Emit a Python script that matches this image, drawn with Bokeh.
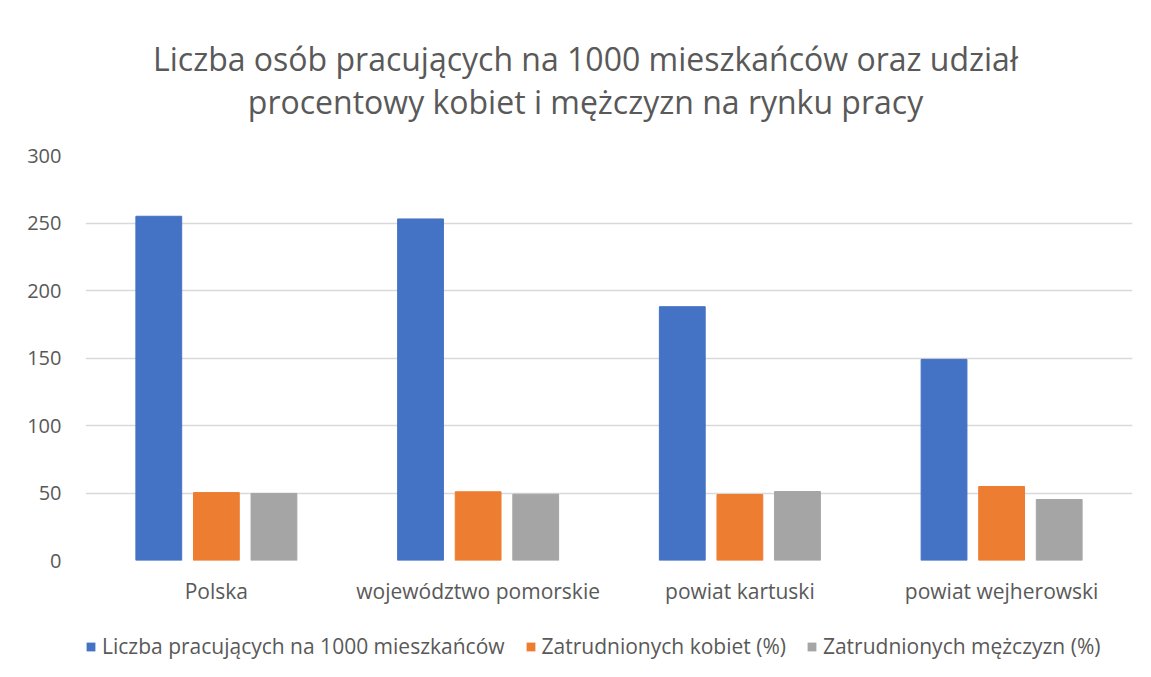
from bokeh.plotting import figure
from bokeh.layouts import column
from bokeh.models import ColumnDataSource, FactorRange, Legend, LegendItem, Label, SingleIntervalTicker, Range1d
from bokeh.transform import dodge
from bokeh.embed import file_html
from bokeh.resources import INLINE

categories = ["Polska", "województwo pomorskie", "powiat kartuski", "powiat wejherowski"]
pracujacy = [255, 253, 188, 149]
kobiety = [50.3, 50.9, 48.9, 54.8]
mezczyzni = [49.7, 49.1, 51.1, 45.2]
series_names = ["Liczba pracujących na 1000 mieszkańców", "Zatrudnionych kobiet (%)", "Zatrudnionych mężczyzn (%)"]
title_lines = ["Liczba osób pracujących na 1000 mieszkańców oraz udział",
               "procentowy kobiet i mężczyzn na rynku pracy"]
colors = ["#4472C4", "#ED7D31", "#A5A5A5"]

FONT = "Open Sans"
TXT = "#595959"
W = 1135
FL, FR = 85, 1132   # frame left / right in page pixels (column aligns the frames)


def blank(h):
    f = figure(width=W, height=h, x_range=Range1d(FL, FR), y_range=Range1d(0, h),
               x_axis_location=None, y_axis_location=None,
               output_backend="svg", toolbar_location=None,
               min_border_left=FL, min_border_right=W - FR, min_border_top=0, min_border_bottom=0)
    f.grid.visible = False
    f.outline_line_color = None
    f.title.visible = False
    return f


# header with the two-line title
HEAD_H = 140
head = blank(HEAD_H)
for line, yc in zip(title_lines, [82, 39]):
    head.add_layout(Label(x=585, y=yc, text=line, text_align="center", text_baseline="middle",
                          text_font=FONT, text_font_size="32px", text_color=TXT))

# main chart
src = ColumnDataSource(dict(cat=categories, a=pracujacy, b=kobiety, c=mezczyzni))
p = figure(x_range=FactorRange(*categories, range_padding=0), y_range=(0, 300),
           frame_width=FR - FL, frame_height=405, output_backend="svg", toolbar_location=None,
           min_border_left=FL, min_border_right=W - FR, min_border_top=15, min_border_bottom=45)
p.title.visible = False

p.vbar(x=dodge("cat", -0.22, range=p.x_range), top="a", width=0.175, source=src, color=colors[0])
p.vbar(x=dodge("cat", 0.0, range=p.x_range), top="b", width=0.175, source=src, color=colors[1])
p.vbar(x=dodge("cat", 0.22, range=p.x_range), top="c", width=0.175, source=src, color=colors[2])

p.outline_line_color = None
p.xgrid.grid_line_color = None
p.ygrid.grid_line_color = "#D9D9D9"
p.ygrid.grid_line_width = 1.3
p.yaxis.ticker = SingleIntervalTicker(interval=50)
for ax in (p.xaxis, p.yaxis):
    ax.axis_line_color = None
    ax.major_tick_line_color = None
    ax.minor_tick_line_color = None
    ax.major_label_text_font = FONT
    ax.major_label_text_color = TXT
p.yaxis.major_label_text_font_size = "20px"
p.xaxis.major_label_text_font_size = "21px"
p.yaxis.major_label_standoff = 18
p.xaxis.major_label_standoff = 10

# legend row (placeholder swatch renderers of zero size, only used for the legend keys)
LEG_H = 70
leg = blank(LEG_H)
rs = [leg.vbar(x=[FL], top=[0], width=0, fill_color=c, line_alpha=0) for c in colors]
legend = Legend(items=[LegendItem(label=n, renderers=[r]) for n, r in zip(series_names, rs)],
                orientation="horizontal", location=(0, 17),
                label_text_font=FONT, label_text_font_size="21px", label_text_color=TXT,
                glyph_width=11, glyph_height=11, label_standoff=6, spacing=20,
                border_line_color=None, background_fill_alpha=0, padding=0, margin=0)
leg.add_layout(legend, "center")

layout = column(head, p, leg, spacing=0)
open("out.html", "w").write(file_html(layout, INLINE))
